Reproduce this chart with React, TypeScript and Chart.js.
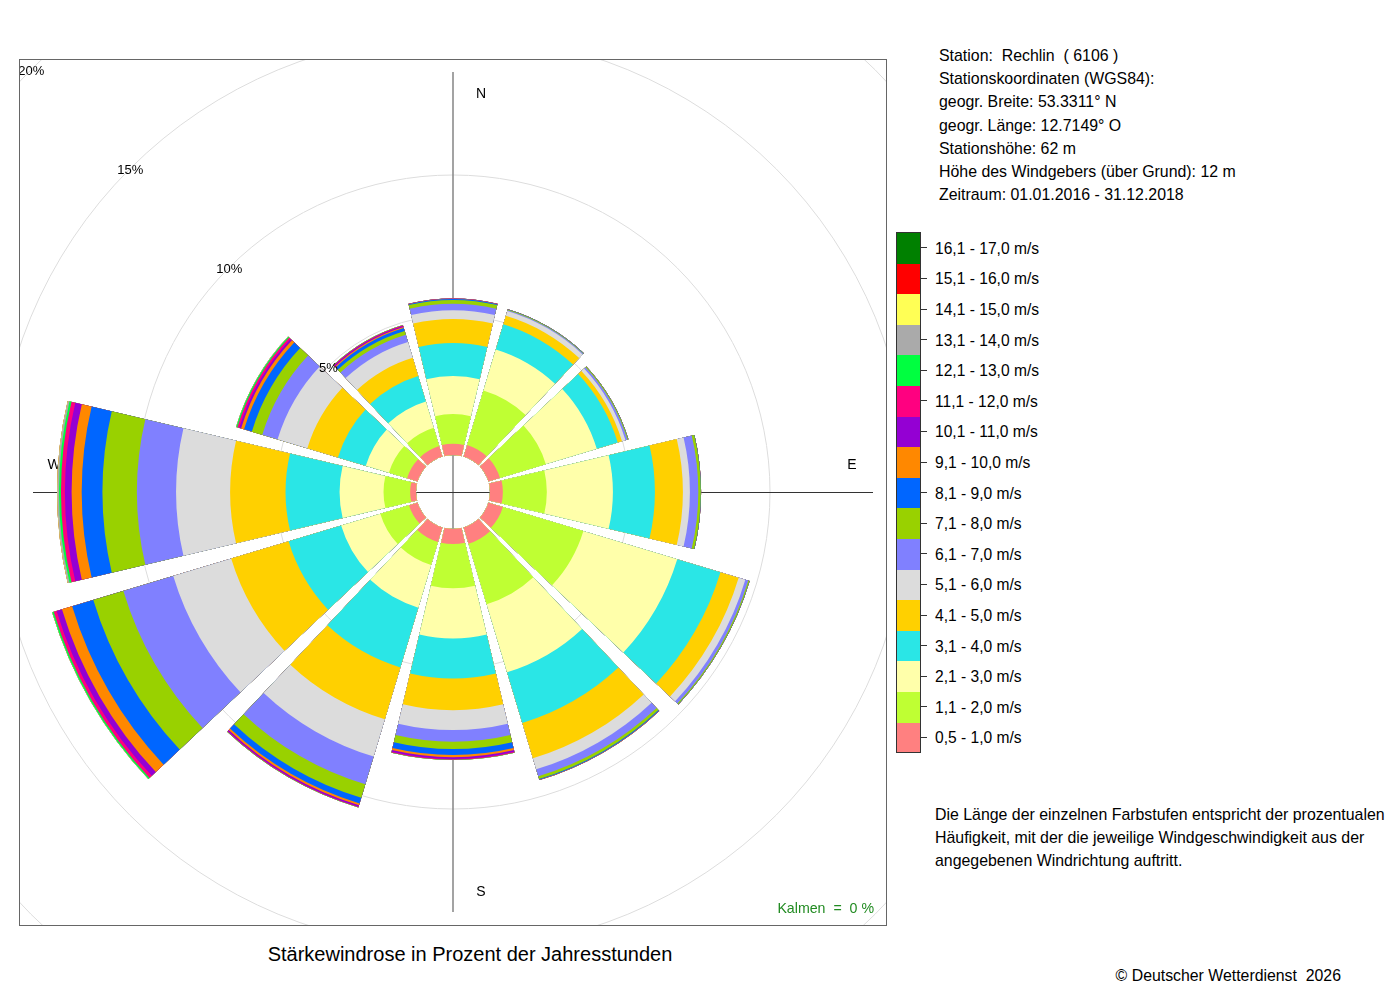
import React, { useEffect, useRef } from "react";
import { Chart, registerables } from "chart.js";

Chart.register(...registerables);

// ---------- data ----------
const directions = ["N", "30°", "60°", "E", "120°", "150°", "S", "210°", "240°", "W", "300°", "330°"];

const speedLabels = [
  "0,5 - 1,0 m/s", "1,1 - 2,0 m/s", "2,1 - 3,0 m/s", "3,1 - 4,0 m/s", "4,1 - 5,0 m/s",
  "5,1 - 6,0 m/s", "6,1 - 7,0 m/s", "7,1 - 8,0 m/s", "8,1 - 9,0 m/s", "9,1 - 10,0 m/s",
  "10,1 - 11,0 m/s", "11,1 - 12,0 m/s", "12,1 - 13,0 m/s", "13,1 - 14,0 m/s",
  "14,1 - 15,0 m/s", "15,1 - 16,0 m/s", "16,1 - 17,0 m/s",
];

const speedColors = [
  "#ff8080", "#bfff33", "#ffffaa", "#2ae6e6", "#ffd000",
  "#dcdcdc", "#8080ff", "#99d100", "#0066ff", "#ff8800",
  "#9400d3", "#ff0080", "#00ff40", "#aaaaaa", "#ffff55",
  "#ff0000", "#008000",
];

// percent of hours per direction (N, 30°, 60°, E, 120°, 150°, S, 210°, 240°, W, 300°, 330°)
const v05_10 = [0.40, 0.43, 0.43, 0.46, 0.54, 0.61, 0.54, 0.54, 0.32, 0.21, 0.39, 0.39];
const v11_20 = [1.06, 2.03, 1.71, 1.57, 3.00, 2.25, 1.58, 0.86, 1.07, 0.95, 0.68, 0.68];
const v21_30 = [1.36, 1.53, 1.90, 2.36, 3.50, 2.54, 1.79, 1.59, 1.46, 1.57, 0.86, 0.98];
const v31_40 = [1.18, 0.94, 0.78, 1.50, 1.61, 1.89, 1.43, 2.23, 1.96, 1.93, 1.04, 0.95];
const v41_50 = [0.86, 0.32, 0.16, 1.00, 0.68, 1.32, 1.13, 1.93, 2.14, 1.98, 1.14, 0.68];
const v51_60 = [0.31, 0.18, 0.13, 0.25, 0.25, 0.41, 0.71, 1.39, 2.16, 1.93, 1.11, 0.59];
const v61_70 = [0.23, 0.03, 0.07, 0.30, 0.11, 0.26, 0.42, 1.04, 1.86, 1.40, 0.57, 0.27];
const v71_80 = [0.14, 0.02, 0.03, 0.09, 0.04, 0.10, 0.26, 0.50, 1.12, 1.23, 0.39, 0.14];
const v81_90 = [0.03, 0.01, 0.01, 0.01, 0.01, 0.03, 0.21, 0.21, 0.79, 0.74, 0.29, 0.11];
const v91_100 = [0.01, 0.0, 0.0, 0.0, 0.0, 0.01, 0.08, 0.07, 0.38, 0.36, 0.11, 0.04];
const v101_110 = [0.01, 0.0, 0.0, 0.0, 0.0, 0.0, 0.06, 0.05, 0.20, 0.24, 0.07, 0.04];
const v111_120 = [0.0, 0.0, 0.0, 0.0, 0.0, 0.0, 0.03, 0.02, 0.11, 0.14, 0.07, 0.03];
const v121_130 = [0.0, 0.0, 0.0, 0.0, 0.0, 0.0, 0.01, 0.01, 0.05, 0.07, 0.04, 0.01];
const v131_140 = [0.0, 0.0, 0.0, 0.0, 0.0, 0.0, 0.0, 0.0, 0.01, 0.06, 0.01, 0.0];
const v141_150 = [0.0, 0.0, 0.0, 0.0, 0.0, 0.0, 0.0, 0.0, 0.0, 0.01, 0.0, 0.0];
const v151_160 = [0.0, 0.0, 0.0, 0.0, 0.0, 0.0, 0.0, 0.0, 0.0, 0.0, 0.0, 0.0];
const v161_170 = [0.0, 0.0, 0.0, 0.0, 0.0, 0.0, 0.0, 0.0, 0.0, 0.0, 0.0, 0.0];

const speedSeries = [
  v05_10, v11_20, v21_30, v31_40, v41_50, v51_60, v61_70, v71_80, v81_90,
  v91_100, v101_110, v111_120, v121_130, v131_140, v141_150, v151_160, v161_170,
];

const ringTicks = [5, 10, 15, 20];
const ringLabels = ["5%", "10%", "15%", "20%"];

const stationLines = [
  "Station:  Rechlin  ( 6106 )",
  "Stationskoordinaten (WGS84):",
  "geogr. Breite: 53.3311° N",
  "geogr. Länge: 12.7149° O",
  "Stationshöhe: 62 m",
  "Höhe des Windgebers (über Grund): 12 m",
  "Zeitraum: 01.01.2016 - 31.12.2018",
];

const noteLines = [
  "Die Länge der einzelnen Farbstufen entspricht der prozentualen",
  "Häufigkeit, mit der die jeweilige Windgeschwindigkeit aus der",
  "angegebenen Windrichtung auftritt.",
];

const compassLabels = ["N", "E", "S", "W"];

// ---------- layout ----------
const FONT = "'Liberation Sans', Arial, Helvetica, sans-serif";
const CANVAS_LEFT = 19;
const CANVAS_TOP = 59;
const CANVAS_W = 868;
const CANVAS_H = 867;
const CX = 434;
const CY = 433;
const PX_PER_PCT = 28;
const HOLE_PX = 37;
const R_MIN = -HOLE_PX / PX_PER_PCT;
const R_MAX = 20;
const SECTOR_DEG = 26.6;
const GAP_DEG = 30 - SECTOR_DEG;
const AXIS_HALF = 420;
const LABEL_R = 399;
const LABEL_OFF = 28;

const cumulative = speedSeries.map((_, k) =>
  directions.map((_, d) => speedSeries.slice(0, k + 1).reduce((a, s) => a + s[d], 0))
);

const rosePlugin = {
  id: "rose",
  beforeDatasetsDraw(chart: any) {
    const ctx = chart.ctx as CanvasRenderingContext2D;
    const s = chart.scales.r;
    const cx = s.xCenter;
    const cy = s.yCenter;
    ctx.save();
    ctx.strokeStyle = "#8c8c8c";
    ctx.lineWidth = 1.6;
    ctx.beginPath();
    ctx.moveTo(cx, cy - AXIS_HALF);
    ctx.lineTo(cx, cy + AXIS_HALF);
    ctx.stroke();
    ctx.strokeStyle = "#333";
    ctx.lineWidth = 1;
    ctx.beginPath();
    ctx.moveTo(cx - AXIS_HALF, cy + 0.5);
    ctx.lineTo(cx + AXIS_HALF, cy + 0.5);
    ctx.stroke();
    ctx.fillStyle = "#000";
    ctx.font = `14px ${FONT}`;
    ctx.textAlign = "center";
    ctx.textBaseline = "middle";
    const pos = [
      [cx + LABEL_OFF, cy - LABEL_R + 1],
      [cx + LABEL_R, cy - LABEL_OFF + 1],
      [cx + LABEL_OFF, cy + LABEL_R + 1],
      [cx - LABEL_R, cy - LABEL_OFF + 1],
    ];
    compassLabels.forEach((t, i) => ctx.fillText(t, pos[i][0], pos[i][1]));
    ctx.restore();

    // hole in the middle of the rose
    const r0 = s.getDistanceFromCenterForValue(0);
    ctx.save();
    ctx.beginPath();
    ctx.rect(0, 0, chart.width, chart.height);
    ctx.moveTo(cx + r0, cy);
    ctx.arc(cx, cy, r0, 0, Math.PI * 2, true);
    ctx.clip("evenodd");
  },
  afterDatasetsDraw(chart: any) {
    const ctx = chart.ctx as CanvasRenderingContext2D;
    ctx.restore();
    const s = chart.scales.r;
    ctx.save();
    ctx.fillStyle = "#000";
    ctx.font = `13px ${FONT}`;
    ctx.textAlign = "center";
    ctx.textBaseline = "middle";
    ringTicks.forEach((v, i) => {
      const r = s.getDistanceFromCenterForValue(v);
      ctx.fillText(ringLabels[i], s.xCenter - r * Math.SQRT1_2 + 0.5, s.yCenter - r * Math.SQRT1_2 + 2);
    });
    ctx.strokeStyle = "#666";
    ctx.lineWidth = 1;
    ctx.strokeRect(0.5, 0.5, chart.width - 1, chart.height - 1);
    ctx.restore();
  },
};

export default function App() {
  const ref = useRef<HTMLCanvasElement>(null);

  useEffect(() => {
    const canvas = ref.current;
    if (!canvas) return;
    const chart = new Chart(canvas, {
      type: "polarArea",
      data: {
        labels: directions.flatMap((d) => [d, ""]),
        datasets: speedSeries.map((_, k) => ({
          label: speedLabels[k],
          data: cumulative[k].flatMap((v) => [v, R_MIN]),
          backgroundColor: (c: any) => (c.dataIndex % 2 === 0 ? speedColors[k] : "rgba(0,0,0,0)"),
          borderWidth: 0,
          angle: (c: any) => (c.dataIndex % 2 === 0 ? SECTOR_DEG : GAP_DEG),
        })) as any,
      },
      options: {
        animation: false,
        responsive: false,
        maintainAspectRatio: false,
        layout: { padding: 0 },
        events: [],
        plugins: {
          legend: { display: false },
          tooltip: { enabled: false },
        },
        scales: {
          r: {
            min: R_MIN,
            max: R_MAX,
            startAngle: -SECTOR_DEG / 2,
            angleLines: { display: false },
            pointLabels: { display: false },
            ticks: { display: false },
            grid: {
              circular: true,
              lineWidth: 1,
              color: (c: any) => (c.tick && c.tick.value > 0 ? "#dddddd" : "rgba(0,0,0,0)"),
            },
            afterBuildTicks: (scale: any) => {
              scale.ticks = [R_MIN, ...ringTicks].map((v) => ({ value: v }));
            },
            afterFit: (scale: any) => {
              scale.xCenter = CX;
              scale.yCenter = CY;
              scale.drawingArea = (R_MAX - R_MIN) * PX_PER_PCT;
            },
          } as any,
        },
      },
      plugins: [rosePlugin],
    });
    return () => chart.destroy();
  }, []);

  const legendTop = 232;
  const swatchH = 30.6;
  const n = speedLabels.length;

  return (
    <div
      style={{
        position: "absolute",
        left: 0,
        top: 0,
        width: 1400,
        height: 1000,
        background: "#fff",
        fontFamily: FONT,
        color: "#000",
        overflow: "hidden",
      }}
    >
      <canvas
        ref={ref}
        width={CANVAS_W}
        height={CANVAS_H}
        style={{ position: "absolute", left: CANVAS_LEFT, top: CANVAS_TOP, width: CANVAS_W, height: CANVAS_H }}
      />
      <div
        style={{
          position: "absolute",
          left: 700,
          width: 174,
          top: 899,
          textAlign: "right",
          fontSize: 14.2,
          lineHeight: "18px",
          color: "#228b22",
          whiteSpace: "pre",
        }}
      >
        {"Kalmen  =  0 %"}
      </div>
      <div
        style={{
          position: "absolute",
          left: 170,
          width: 600,
          top: 942,
          textAlign: "center",
          fontSize: 20,
          lineHeight: "24px",
        }}
      >
        Stärkewindrose in Prozent der Jahresstunden
      </div>
      <div style={{ position: "absolute", left: 939, top: 44, fontSize: 15.9, lineHeight: "23.17px", whiteSpace: "pre" }}>
        {stationLines.map((t, i) => (
          <div key={i}>{t}</div>
        ))}
      </div>
      <div
        style={{
          position: "absolute",
          left: 896,
          top: legendTop,
          width: 25,
          height: swatchH * n + 1,
          border: "1px solid #333",
          boxSizing: "border-box",
          overflow: "hidden",
        }}
      >
        {speedLabels.map((_, i) => {
          const k = n - 1 - i;
          return (
            <div
              key={i}
              style={{ position: "absolute", left: 0, right: 0, top: i * swatchH, height: swatchH + 0.5, background: speedColors[k] }}
            />
          );
        })}
      </div>
      {speedLabels.map((_, i) => {
        const k = n - 1 - i;
        const cy = legendTop + swatchH * (i + 0.5);
        return (
          <React.Fragment key={i}>
            <div style={{ position: "absolute", left: 921, top: Math.round(cy), width: 6, height: 1, background: "#333" }} />
            <div style={{ position: "absolute", left: 935, top: cy - 8.5, fontSize: 15.6, lineHeight: "20px", whiteSpace: "pre" }}>
              {speedLabels[k]}
            </div>
          </React.Fragment>
        );
      })}
      <div style={{ position: "absolute", left: 935, top: 802.5, fontSize: 15.9, lineHeight: "23px", whiteSpace: "pre" }}>
        {noteLines.map((t, i) => (
          <div key={i}>{t}</div>
        ))}
      </div>
      <div style={{ position: "absolute", left: 1000, width: 341, top: 966, textAlign: "right", fontSize: 15.85, lineHeight: "20px", whiteSpace: "pre" }}>
        {"© Deutscher Wetterdienst  2026"}
      </div>
    </div>
  );
}
